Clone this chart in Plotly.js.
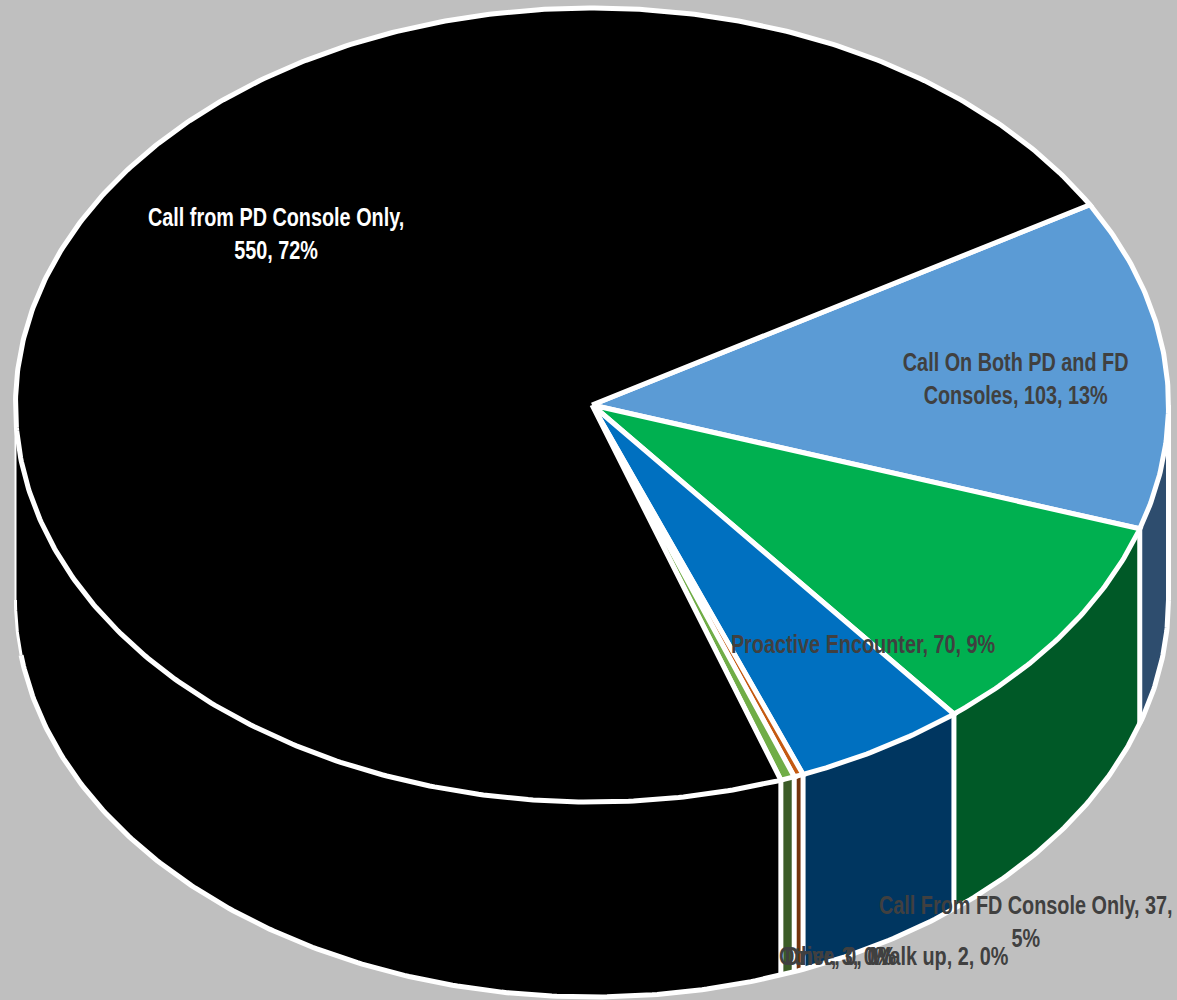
<!DOCTYPE html>
<html><head><meta charset="utf-8"><script src="https://cdn.plot.ly/plotly-3.0.1.min.js"></script>
<style>html,body{margin:0;padding:0;background:#BFBFBF}</style></head><body><div id="chart" style="width:1177px;height:1000px"></div>
<script>
// data, clockwise from the first slice boundary
const categories = ["Call On Both PD and FD Consoles","Proactive Encounter","Call From FD Console Only","Walk up","Drive","Other","Call from PD Console Only"];
const values = [103,70,37,2,0,3,550];
const percents = [13,9,5,0,0,0,72];
const topColors = ["#5B9BD5","#00B050","#0070C0","#C55A11","#A5A5A5","#70AD47","#000000"];
const wallColors = ["#2E4D6E","#005927","#003660","#74340D","#666666","#3C5C27","#000000"];
const labelColors = ["#404040","#404040","#404040","#404040","#404040","#404040","#FFFFFF"];
const labelBreaks = [[22],null,[30],null,null,null,[26]];
const labelX = [1015,863,1026,940,840,835,276];
const labelY = [378,643,921,955,955,955,233];

const cx=592, cy=405, rx=576.5, ry=397, depth=195, startDeg=-30.3;
const total = values.reduce((a,b)=>a+b,0);
const rad = d=>d*Math.PI/180;
function arc(a,b,dy){const xs=[],ys=[];const n=Math.max(2,Math.ceil(Math.abs(b-a)/0.5));
  for(let i=0;i<=n;i++){const t=rad(a+(b-a)*i/n);xs.push(cx+rx*Math.cos(t));ys.push(cy+dy+ry*Math.sin(t));}
  return [xs,ys];}
const traces=[]; const base={mode:'lines',hoverinfo:'skip',showlegend:false};
const spans=[];let acc=startDeg;
values.forEach(v=>{const e=acc+v/total*360;spans.push([acc,e]);acc=e;});
// side walls (only the front half of the disc shows)
spans.forEach(([a,b],i)=>{
  const s=Math.max(a,0), e=Math.min(b,180);
  if(e<=s) return;
  const [tx,ty]=arc(s,e,0), [bx,by]=arc(e,s,depth);
  traces.push({...base,x:tx.concat(bx,[tx[0]]),y:ty.concat(by,[ty[0]]),fill:'toself',fillcolor:wallColors[i],line:{color:'#FFFFFF',width:0.01}});
  if(s>0) traces.push({...base,x:[tx[0],tx[0]],y:[ty[0],ty[0]+depth],line:{color:'#FFFFFF',width:5}});
});
// bottom rim and outer verticals
traces.push({...base,x:[cx-rx,cx-rx],y:[cy,cy+depth],line:{color:'#FFFFFF',width:2}});
traces.push({...base,x:[cx+rx,cx+rx],y:[cy,cy+depth],line:{color:'#FFFFFF',width:5}});
const [rimX,rimY]=arc(0,172,depth);
traces.push({...base,x:rimX,y:rimY,line:{color:'#FFFFFF',width:5}});
const [rimEndX,rimEndY]=arc(172,180,depth);
traces.push({...base,x:rimEndX,y:rimEndY,line:{color:'#FFFFFF',width:3}});
// top wedges
spans.forEach(([a,b],i)=>{ if(values[i]===0) return;
  const [tx,ty]=arc(a,b,0);
  traces.push({...base,x:[cx].concat(tx,[cx]),y:[cy].concat(ty,[cy]),fill:'toself',fillcolor:topColors[i],line:{color:'#FFFFFF',width:5}});
});
function wrap(s,br){ if(!br) return s; return s.slice(0,br[0]).trimEnd()+'<br>'+s.slice(br[0]).trimStart(); }
const annotations=categories.map((c,i)=>({xref:'x',yref:'y',x:labelX[i],y:labelY[i],showarrow:false,align:'center',xanchor:'center',yanchor:'middle',
  text:wrap(c+', '+values[i]+', '+percents[i]+'%',labelBreaks[i]),
  font:{family:'"Liberation Sans",Arial,sans-serif',size:24,color:labelColors[i],weight:700}}));
Plotly.newPlot('chart',traces,{width:1177,height:1000,margin:{l:0,r:0,t:0,b:0},paper_bgcolor:'#BFBFBF',plot_bgcolor:'#BFBFBF',
  xaxis:{range:[0,1177],visible:false,fixedrange:true},yaxis:{range:[1000,0],visible:false,fixedrange:true},annotations},{staticPlot:true,displayModeBar:false}).then(()=>{
  // the reference's labels are set in a condensed, tall bold face
  document.querySelectorAll('#chart .annotation-text').forEach(t=>{
    const b=t.getBBox(),x=b.x+b.width/2,y=b.y+b.height/2;
    t.setAttribute('transform',`translate(${x},${y}) scale(0.826,1.06) translate(${-x},${-y})`);
  });
});
</script></body></html>
